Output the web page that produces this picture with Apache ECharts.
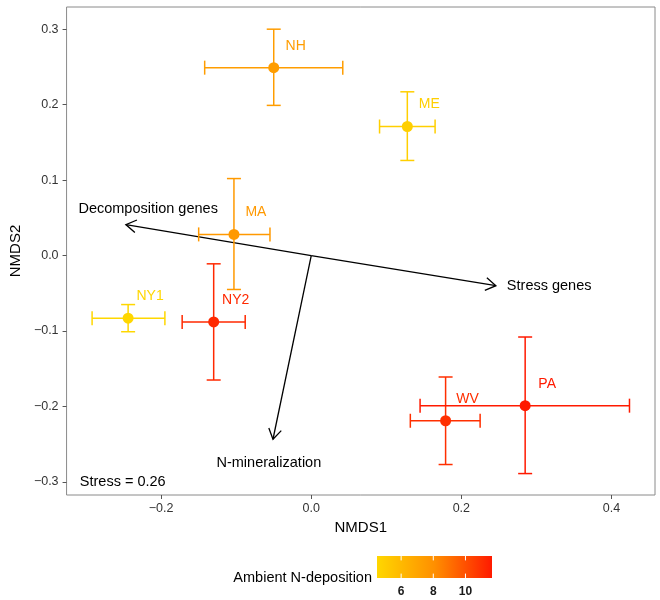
<!DOCTYPE html>
<html><head><meta charset="utf-8">
<script src="https://cdn.jsdelivr.net/npm/echarts@6/dist/echarts.min.js"></script>
<style>html,body{margin:0;padding:0;background:#fff}#c{width:660px;height:600px}</style>
</head><body><div id="c"></div>
<script>
// ---- data ----
const sites   = ['NH', 'ME', 'MA', 'NY1', 'NY2', 'WV', 'PA'];
const nmds1   = [-0.050, 0.128, -0.103, -0.244, -0.130, 0.179, 0.285];
const nmds2   = [0.249, 0.171, 0.028, -0.083, -0.088, -0.219, -0.199];
const nmds1Lo = [-0.142, 0.091, -0.150, -0.292, -0.172, 0.132, 0.145];
const nmds1Hi = [0.042, 0.165, -0.055, -0.195, -0.088, 0.225, 0.424];
const nmds2Lo = [0.199, 0.126, -0.045, -0.101, -0.165, -0.277, -0.289];
const nmds2Hi = [0.300, 0.217, 0.102, -0.065, -0.011, -0.161, -0.108];
const nDep    = [7.4, 4.9, 7.6, 4.5, 11.2, 11.0, 11.65];

const vectors   = ['Decomposition genes', 'Stress genes', 'N-mineralization'];
const vecX      = [-0.247, 0.246, -0.051];
const vecY      = [0.041, -0.040, -0.2435];
const vecLabelX = [-0.2173, 0.317, -0.0565];
const vecLabelY = [0.0619, -0.040, -0.2751];

const stressText = 'Stress = 0.26';
const stressX = -0.3084, stressY = -0.300;

const xTicks = [-0.2, 0.0, 0.2, 0.4];
const yTicks = [-0.3, -0.2, -0.1, 0.0, 0.1, 0.2, 0.3];
const legendTicks = [6, 8, 10];
const rampColors = ['#FFD700', '#FF8F00', '#FF1A00'];

// ---- chart ----
const FONT = '"Liberation Sans", Arial, Helvetica, sans-serif';
const fmt = v => (v < 0 ? '\u2212' : '') + Math.abs(v).toFixed(1);
const depMin = Math.min(...nDep), depMax = Math.max(...nDep);

const siteData = sites.map((s, i) => [nmds1[i], nmds2[i], nmds1Lo[i], nmds1Hi[i], nmds2Lo[i], nmds2Hi[i], nDep[i], s]);
const vecData = vectors.map((v, i) => [vecX[i], vecY[i], vecLabelX[i], vecLabelY[i], v]);

const chart = echarts.init(document.getElementById('c'), null, {renderer: 'canvas'});
chart.setOption({
  animation: false,
  backgroundColor: '#fff',
  grid: [
    {left: 66, top: 7, right: 5, bottom: 105, show: true, borderColor: '#8a8a8a', borderWidth: 1, backgroundColor: 'transparent'},
    {left: 377, top: 556, width: 115, height: 22}
  ],
  xAxis: [
    {type: 'value', gridIndex: 0, min: -0.326, max: 0.458, position: 'bottom',
     name: 'NMDS1', nameLocation: 'middle', nameGap: 25,
     nameTextStyle: {fontFamily: FONT, fontSize: 15, color: '#000'},
     axisLine: {show: false, onZero: false}, splitLine: {show: false},
     axisTick: {show: true, length: 4, lineStyle: {color: '#555'}, customValues: xTicks},
     axisLabel: {customValues: xTicks, formatter: fmt, fontFamily: FONT, fontSize: 12.5, color: '#333', margin: 7}},
    {type: 'value', gridIndex: 1, min: depMin, max: depMax,
     axisLine: {show: false, onZero: false}, axisTick: {show: false}, splitLine: {show: false},
     axisLabel: {customValues: legendTicks, fontFamily: FONT, fontSize: 12, fontWeight: 'bold', color: '#1a1a1a', margin: 8}}
  ],
  yAxis: [
    {type: 'value', gridIndex: 0, min: -0.3174, max: 0.3294, position: 'left',
     name: 'NMDS2', nameLocation: 'middle', nameGap: 32, nameRotate: 90,
     nameTextStyle: {fontFamily: FONT, fontSize: 15, color: '#000'},
     axisLine: {show: false, onZero: false}, splitLine: {show: false},
     axisTick: {show: true, length: 4, lineStyle: {color: '#555'}, customValues: yTicks},
     axisLabel: {customValues: yTicks, formatter: fmt, fontFamily: FONT, fontSize: 12.5, color: '#333', margin: 8}},
    {type: 'value', gridIndex: 1, min: 0, max: 1, show: false}
  ],
  visualMap: {show: false, type: 'continuous', min: depMin, max: depMax, dimension: 6, seriesIndex: 0,
              inRange: {color: rampColors}},
  series: [
    {
      type: 'custom', name: 'sites', xAxisIndex: 0, yAxisIndex: 0,
      data: siteData,
      encode: {x: [0, 2, 3], y: [1, 4, 5]},
      z: 5,
      renderItem: function (params, api) {
        const color = api.visual('color');
        const x = api.value(0), y = api.value(1);
        const c = api.coord([x, y]);
        const xl = api.coord([api.value(2), y]), xh = api.coord([api.value(3), y]);
        const yl = api.coord([x, api.value(4)]), yh = api.coord([x, api.value(5)]);
        const cap = 7;
        const ls = {stroke: color, lineWidth: 1.5, fill: null};
        const line = (a, b) => ({type: 'line', shape: {x1: a[0], y1: a[1], x2: b[0], y2: b[1]}, style: ls});
        return {type: 'group', children: [
          line(xl, xh),
          line([xl[0], xl[1] - cap], [xl[0], xl[1] + cap]),
          line([xh[0], xh[1] - cap], [xh[0], xh[1] + cap]),
          line(yl, yh),
          line([yl[0] - cap, yl[1]], [yl[0] + cap, yl[1]]),
          line([yh[0] - cap, yh[1]], [yh[0] + cap, yh[1]]),
          {type: 'circle', shape: {cx: c[0], cy: c[1], r: 5.5}, style: {fill: color, stroke: null}},
          {type: 'text', x: c[0] + 22, y: c[1] - 22,
           style: {text: api.value(7), fill: color, fontFamily: FONT, fontSize: 14,
                   align: 'center', verticalAlign: 'middle', textAlign: 'center', textVerticalAlign: 'middle'}}
        ]};
      }
    },
    {
      type: 'custom', name: 'vectors', xAxisIndex: 0, yAxisIndex: 0,
      data: vecData, encode: {x: [0, 2], y: [1, 3]}, z: 4,
      renderItem: function (params, api) {
        const o = api.coord([0, 0]);
        const t = api.coord([api.value(0), api.value(1)]);
        const lp = api.coord([api.value(2), api.value(3)]);
        const a = Math.atan2(t[1] - o[1], t[0] - o[0]);
        const L = 12, th = 32 * Math.PI / 180;
        const p1 = [t[0] - L * Math.cos(a - th), t[1] - L * Math.sin(a - th)];
        const p2 = [t[0] - L * Math.cos(a + th), t[1] - L * Math.sin(a + th)];
        const st = {stroke: '#000', lineWidth: 1.3, fill: null};
        return {type: 'group', children: [
          {type: 'line', shape: {x1: o[0], y1: o[1], x2: t[0], y2: t[1]}, style: st},
          {type: 'polyline', shape: {points: [p1, t, p2]}, style: st},
          {type: 'text', x: lp[0], y: lp[1],
           style: {text: api.value(4), fill: '#000', fontFamily: FONT, fontSize: 14.5,
                   align: 'center', verticalAlign: 'middle', textAlign: 'center', textVerticalAlign: 'middle'}}
        ]};
      }
    },
    {
      type: 'custom', name: 'stress', xAxisIndex: 0, yAxisIndex: 0,
      data: [[stressX, stressY, stressText]], z: 4,
      renderItem: function (params, api) {
        const p = api.coord([api.value(0), api.value(1)]);
        return {type: 'text', x: p[0], y: p[1],
          style: {text: api.value(2), fill: '#000', fontFamily: FONT, fontSize: 14.5,
                  align: 'left', verticalAlign: 'middle', textAlign: 'left', textVerticalAlign: 'middle'}};
      }
    },
    {
      type: 'custom', name: 'colorbar', xAxisIndex: 1, yAxisIndex: 1,
      data: [[depMin, depMax]],
      renderItem: function (params, api) {
        const p0 = api.coord([api.value(0), 0]);
        const p1 = api.coord([api.value(1), 1]);
        const h = p0[1] - p1[1];
        const stops = rampColors.map((c, i) => ({offset: i / (rampColors.length - 1), color: c}));
        const children = [{type: 'rect', shape: {x: p0[0], y: p1[1], width: p1[0] - p0[0], height: h},
          style: {fill: new echarts.graphic.LinearGradient(0, 0, 1, 0, stops)}}];
        legendTicks.forEach(tv => {
          const tx = api.coord([tv, 0])[0];
          children.push({type: 'line', shape: {x1: tx, y1: p0[1], x2: tx, y2: p0[1] - h / 5}, style: {stroke: '#fff', lineWidth: 1}});
          children.push({type: 'line', shape: {x1: tx, y1: p1[1], x2: tx, y2: p1[1] + h / 5}, style: {stroke: '#fff', lineWidth: 1}});
        });
        return {type: 'group', children};
      }
    }
  ],
  graphic: [
    {type: 'text', x: 372, y: 578,
     style: {text: 'Ambient N-deposition', fill: '#000', fontFamily: FONT, fontSize: 14.5,
             align: 'right', verticalAlign: 'middle', textAlign: 'right', textVerticalAlign: 'middle'}}
  ]
});
</script>
</body></html>
